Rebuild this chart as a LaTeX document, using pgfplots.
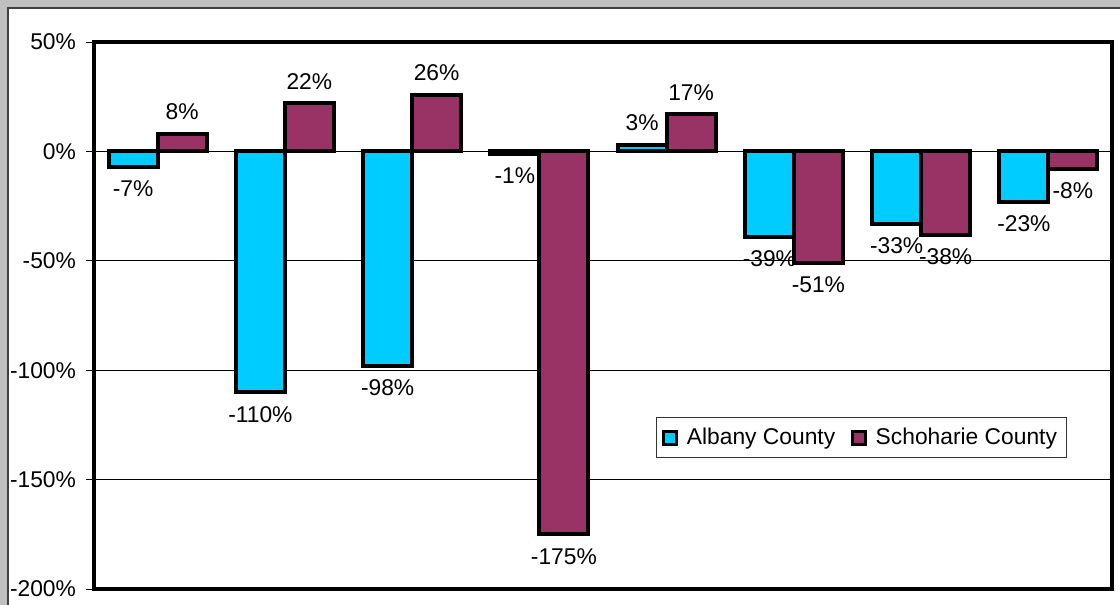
\documentclass[border=0pt]{standalone}
\usepackage{fontspec}
\setmainfont{Liberation Sans}
\usepackage{pgfplots}
\pgfplotsset{compat=1.18}
\definecolor{albany}{HTML}{00CCFF}
\definecolor{schoharie}{HTML}{993366}
\definecolor{bg}{HTML}{C0C0C0}
\newcommand{\cf}{\fontsize{11.4pt}{13pt}\selectfont}
\begin{document}
\begin{tikzpicture}
\fill[bg] (0,0) rectangle (560pt,-302.5pt);
\useasboundingbox (0,0) rectangle (560pt,-302.5pt);
\clip (0,0) rectangle (560pt,-302.5pt);
\draw[fill=white, draw=black!75, line width=0.6pt] (4pt,-4pt) rectangle (620pt,-340pt);
\begin{axis}[
  at={(47pt,-294.5pt)}, anchor=south west,
  scale only axis, width=509pt, height=273.5pt,
  ybar=0pt, bar width=24.5pt,
  xmin=0.5, xmax=8.5, ymin=-200, ymax=50,
  xtick=\empty,
  ytick={-200,-150,...,50},
  ytick pos=left,
  tick align=outside,
  major tick length=4pt,
  tick style={black, line width=0.5pt},
  yticklabel={\pgfmathprintnumber{\tick}\%},
  yticklabel style={font=\cf, xshift=-1.5pt, /pgf/number format/assume math mode=true},
  /pgf/number format/assume math mode=true,
  axis line style={line width=2pt},
  ymajorgrids,
  major grid style={black, line width=0.5pt},
  nodes near coords={\pgfmathprintnumber{\pgfplotspointmeta}\%},
  every node near coord/.append style={font=\cf, text=black, fill=none, draw=none, inner sep=6pt},
  legend style={at={(0.552,0.314)}, anchor=north west, draw=black!80, line width=0.5pt, font=\cf,
    legend columns=2, inner sep=3pt,
    /tikz/every even column/.append style={column sep=6pt}},
]
\addplot[fill=albany, draw=black, line width=2pt,
  legend image code/.code={\draw[fill=albany,draw=black,line width=1.5pt] (0pt,-3.25pt) rectangle (6.5pt,3.25pt); \path (8.5pt,0pt);}]
  coordinates {(1,-7) (2,-110) (3,-98) (4,-1) (5,3) (6,-39) (7,-33) (8,-23)};
\addplot[fill=schoharie, draw=black, line width=2pt,
  legend image code/.code={\draw[fill=schoharie,draw=black,line width=1.5pt] (0pt,-3.25pt) rectangle (6.5pt,3.25pt); \path (8.5pt,0pt);}]
  coordinates {(1,8) (2,22) (3,26) (4,-175) (5,17) (6,-51) (7,-38) (8,-8)};
\legend{Albany County, Schoharie County}
\end{axis}
\end{tikzpicture}
\end{document}
